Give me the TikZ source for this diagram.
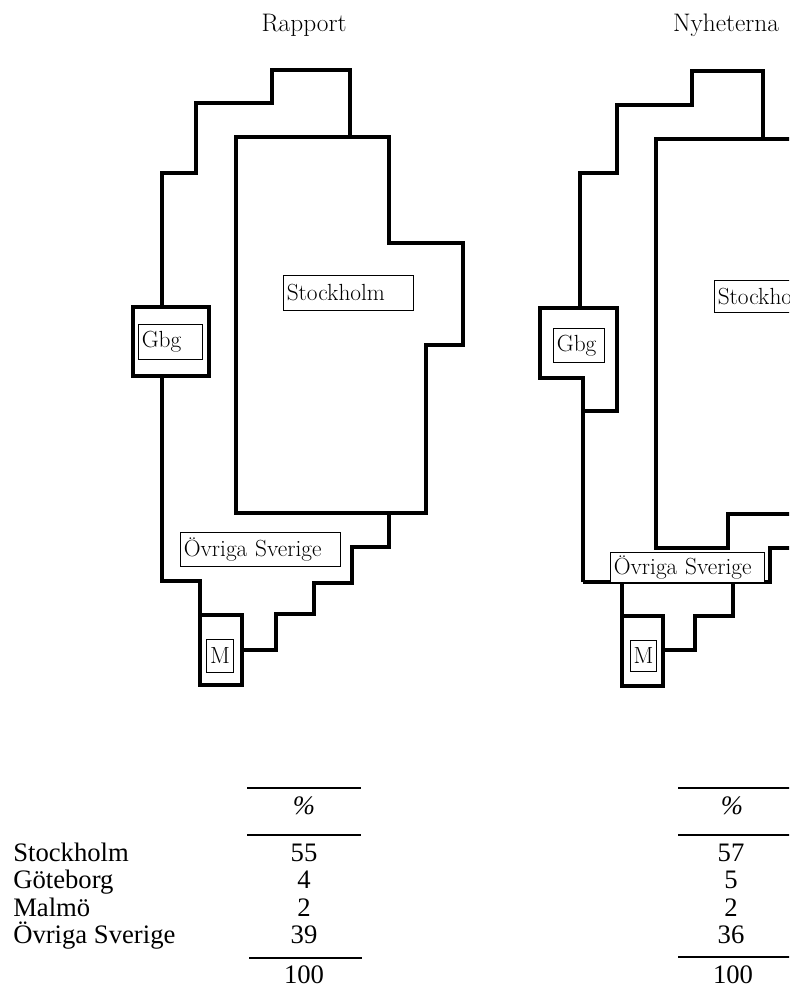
\documentclass[tikz,border=0pt]{standalone}
\usepackage{fontspec}
\newfontfamily\tabfont{Liberation Serif}
\usepackage{tikz}
\usetikzlibrary{positioning}

\tikzset{
  region/.style={line width=2.6pt, line join=miter},
  labelbox/.style={draw, fill=white, line width=0.7pt, anchor=north west, align=left, inner xsep=2.5pt, inner ysep=0pt, font=\fontsize{17.5}{19}\selectfont},
  mbox/.style={draw, fill=white, line width=0.7pt, anchor=north west, inner sep=1pt, font=\fontsize{17.5}{19}\selectfont},
  maptitle/.style={font=\fontsize{19}{22}\selectfont},
  tabtext/.style={font=\tabfont\fontsize{20}{24}\selectfont, inner sep=0pt},
  tabrule/.style={line width=1.6pt}
}

\begin{document}
\begin{tikzpicture}[x=0.75pt, y=-0.75pt]
  \clip (0,0) rectangle (789,987);

  % titles
  \node[maptitle] (titleR) at (304, 25) {Rapport};
  \node[maptitle] (titleN) at (726, 25) {Nyheterna};

  % Rapport: outer region
  \draw[region] (350,137) -- (350,70) -- (272,70) -- (272,103) -- (196,103) -- (196,173) -- (162,173) -- (162,307);
  \draw[region] (162,376) -- (162,581) -- (200,581) -- (200,615);
  \draw[region] (242,650) -- (276,650) -- (276,614) -- (314,614) -- (314,583) -- (352,583) -- (352,547) -- (389,547) -- (389,513);
  % Rapport: Stockholm
  \draw[region] (236,137) -- (389,137) -- (389,243) -- (463,243) -- (463,345) -- (426,345) -- (426,513) -- (236,513) -- cycle;
  % Rapport: Gbg and M
  \draw[region] (133,307) rectangle (209,376);
  \draw[region] (200,615) rectangle (242,685);

  \node[labelbox, text width=92.5pt, minimum height=26.25pt] (stoR) at (283,275) {Stockholm};
  \node[labelbox, text width=43pt, minimum height=26.25pt] (gbgR) at (138,324) {Gbg};
  \node[labelbox, text width=115pt, minimum height=25.5pt] (ovrR) at (180,532) {Övriga Sverige};
  \node[mbox, minimum width=20.25pt, minimum height=24.75pt] (malR) at (206,639) {M};

  % Nyheterna: outer region
  \draw[region] (763,139) -- (763,71) -- (692,71) -- (692,105) -- (617,105) -- (617,173) -- (580,173) -- (580,308);
  \draw[region] (800,548) -- (770,548) -- (770,582) -- (583,582);
  \draw[region] (733,582) -- (733,616) -- (695,616) -- (695,650) -- (663,650);
  % Nyheterna: Stockholm
  \draw[region] (800,139) -- (656,139) -- (656,548) -- (728,548) -- (728,514) -- (800,514);
  % Nyheterna: Gbg and M
  \draw[region] (583,582) -- (583,378) -- (540,378) -- (540,308) -- (617,308) -- (617,411) -- (583,411);
  \draw[region] (622,582) -- (622,616);
  \draw[region] (622,616) rectangle (663,686);

  \node[labelbox, text width=92.5pt, minimum height=24pt] (stoN) at (714,280) {Stockholm};
  \node[labelbox, text width=33.25pt, minimum height=25.5pt] (gbgN) at (553,328) {Gbg};
  \node[labelbox, text width=110.5pt, minimum height=22.5pt] (ovrN) at (610,552) {Övriga Sverige};
  \node[mbox, minimum width=19.5pt, minimum height=23.25pt] (malN) at (630,640) {M};

  % table: row labels
  \node[tabtext, anchor=base west] (rowsto) at (13,861) {Stockholm};
  \node[tabtext, anchor=base west] (rowgbg) at (13,888) {Göteborg};
  \node[tabtext, anchor=base west] (rowmal) at (13,916) {Malmö};
  \node[tabtext, anchor=base west] (rowovr) at (13,943) {Övriga Sverige};

  % table: Rapport
  \draw[tabrule] (247,788) -- (361,788);
  \node[tabtext, anchor=base] (pctR) at (304,814) {\itshape\%};
  \draw[tabrule] (247,835) -- (361,835);
  \node[tabtext, anchor=base] (stoRv) at (304,861) {55};
  \node[tabtext, anchor=base] (gbgRv) at (304,888) {4};
  \node[tabtext, anchor=base] (malRv) at (304,916) {2};
  \node[tabtext, anchor=base] (ovrRv) at (304,943) {39};
  \draw[tabrule] (249,958) -- (362,958);
  \node[tabtext, anchor=base] (sumR) at (304,983) {100};

  % table: Nyheterna
  \draw[tabrule] (678,788) -- (800,788);
  \node[tabtext, anchor=base] (pctN) at (732,814) {\itshape\%};
  \draw[tabrule] (678,835) -- (800,835);
  \node[tabtext, anchor=base] (stoNv) at (731,861) {57};
  \node[tabtext, anchor=base] (gbgNv) at (731,888) {5};
  \node[tabtext, anchor=base] (malNv) at (731,916) {2};
  \node[tabtext, anchor=base] (ovrNv) at (731,943) {36};
  \draw[tabrule] (678,957) -- (800,957);
  \node[tabtext, anchor=base] (sumN) at (733,983) {100};
\end{tikzpicture}
\end{document}
